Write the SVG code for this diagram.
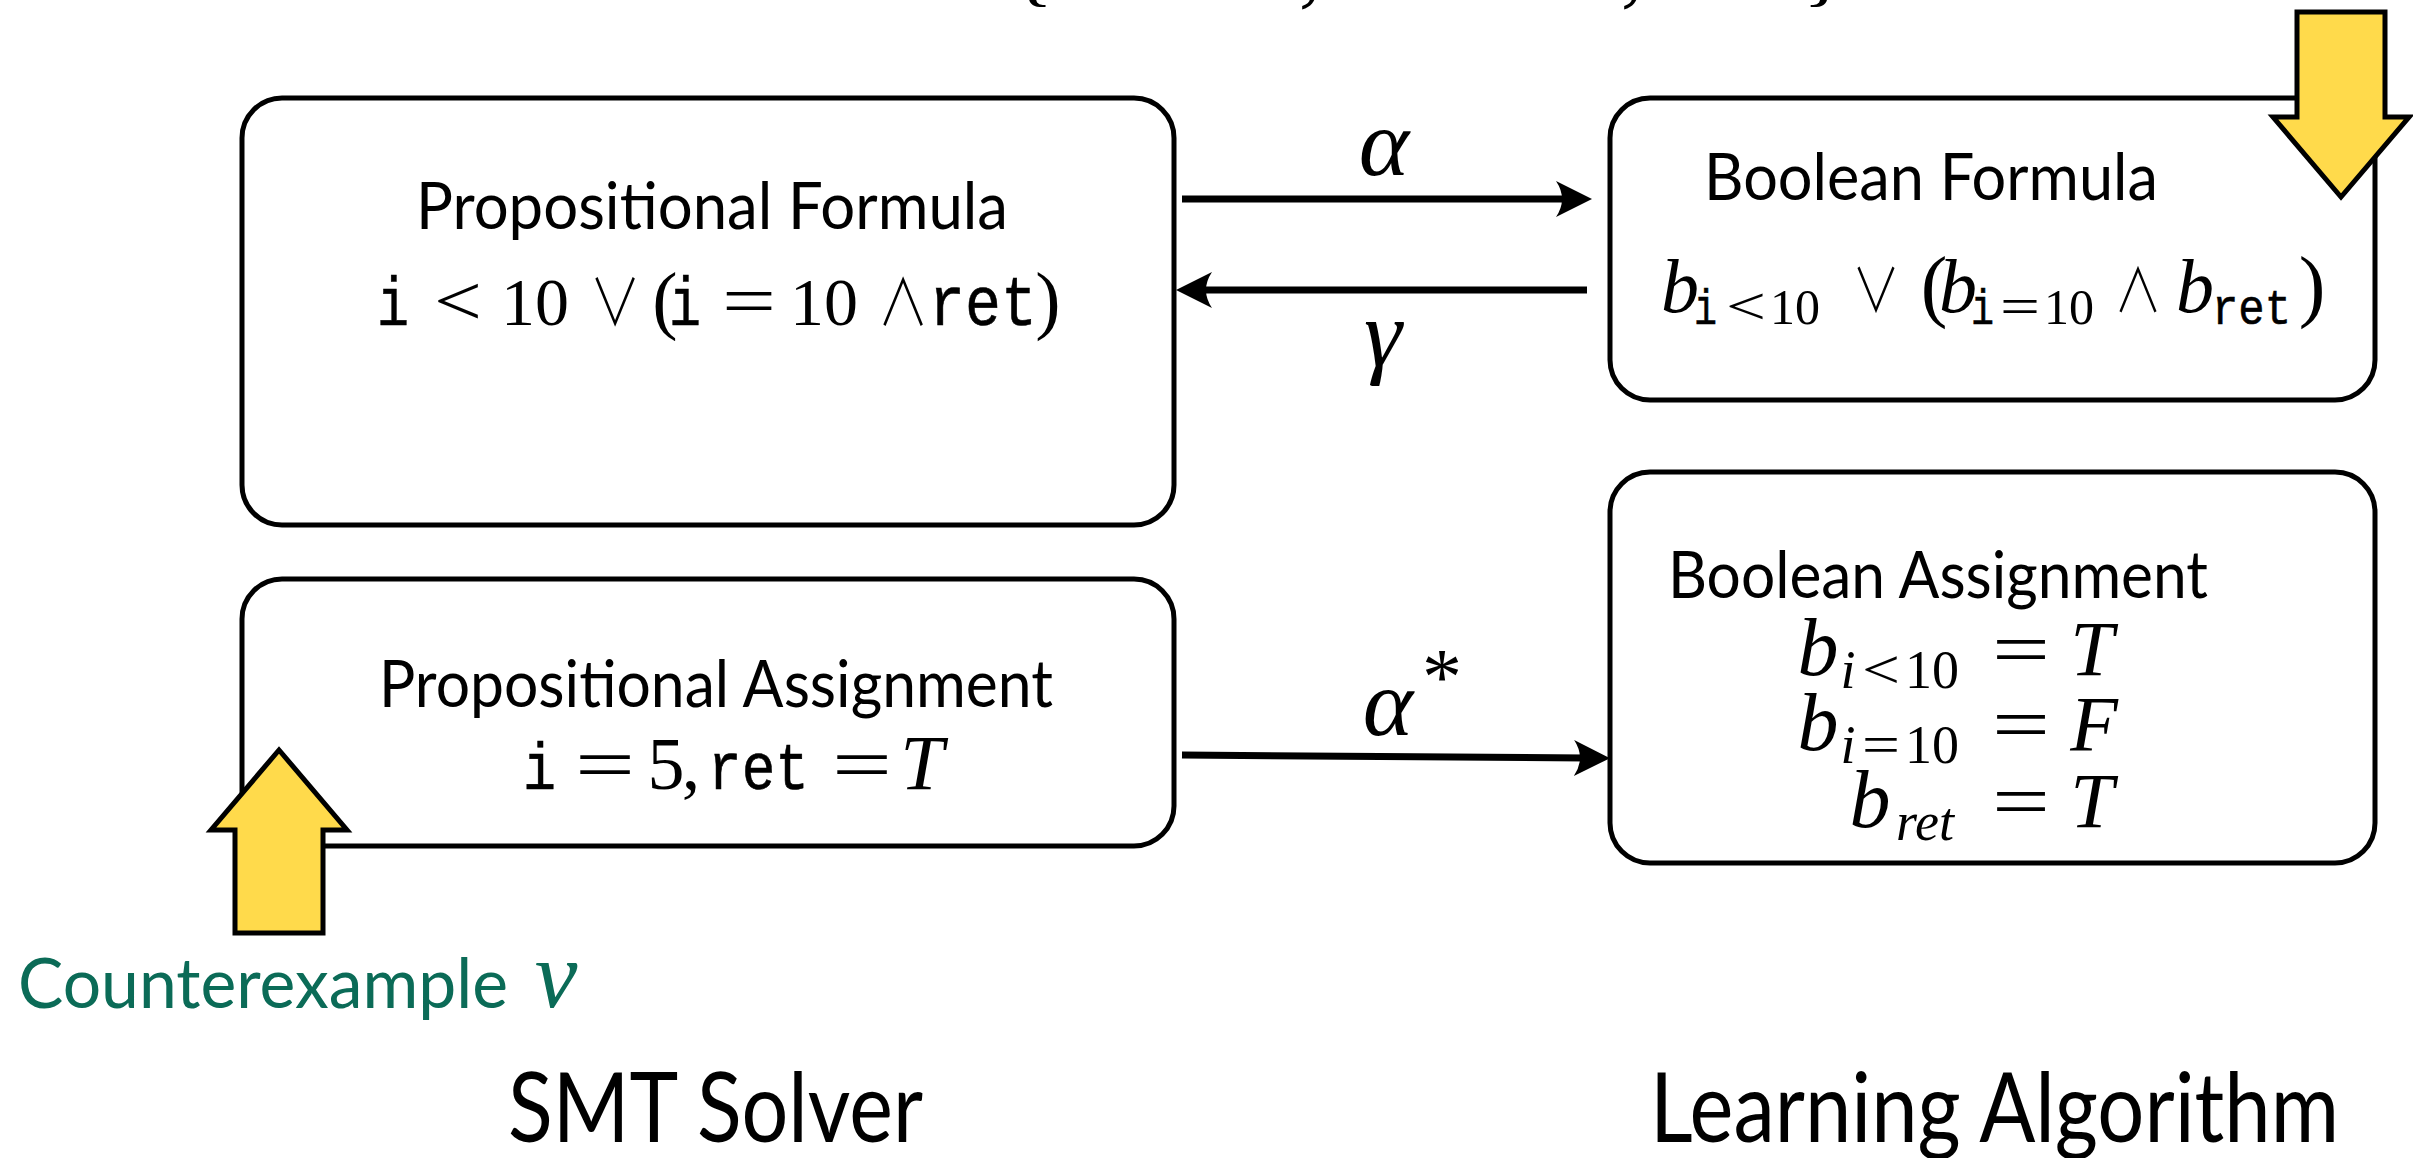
<svg xmlns="http://www.w3.org/2000/svg" width="2413" height="1158" viewBox="0 0 2413 1158">
  <defs>
    <style>
      .box { fill: #fff; stroke: #000; stroke-width: 5; }
      .lbl { font-family: Lato, "Open Sans", "Liberation Sans", sans-serif; fill: #000; }
      .rm { font-family: "Liberation Serif", "DejaVu Serif", serif; fill: #000; }
      .it { font-family: "Liberation Serif", "DejaVu Serif", serif; font-style: italic; fill: #000; }
      .lg { font-family: "Noto Sans CJK JP", "DejaVu Sans", sans-serif; font-weight: 300; fill: #000; }
      .tt { font-family: "Liberation Mono", "DejaVu Sans Mono", monospace; fill: #000; stroke: #000; stroke-width: 0.6; }
      .fat { fill: #FFDA4B; stroke: #000; stroke-width: 5; stroke-linejoin: miter; }
      .edge { stroke: #000; stroke-width: 7; fill: none; }
      .teal { fill: #0B6B57; }
      text { text-anchor: middle; }
      text.start { text-anchor: start; }
    </style>
    <marker id="head" markerUnits="userSpaceOnUse" viewBox="0 0 38 38" markerWidth="38" markerHeight="38" refX="14" refY="19" orient="auto">
      <path d="M38,19 L2,1 Q14,19 2,37 Z" fill="#000"/>
    </marker>
  </defs>

  <!-- set braces running off the top edge -->
  <g id="set-fragment" class="rm" font-size="90">
    <text x="1032" y="-5">{</text>
    <text x="1310" y="-5">,</text>
    <text x="1632" y="-5">,</text>
    <text x="1824" y="-5">}</text>
  </g>

  <!-- SMT side: propositional formula -->
  <g id="node-prop-formula">
    <rect class="box" x="242" y="98" width="932" height="427" rx="40"/>
    <text class="lbl start" x="416" y="229" font-size="66" textLength="592" lengthAdjust="spacingAndGlyphs">Propositional Formula</text>
    <text class="tt start" x="377" y="325" font-size="68" textLength="32" lengthAdjust="spacingAndGlyphs">i</text>
    <text class="rm start" x="434" y="325" font-size="72" textLength="48" lengthAdjust="spacingAndGlyphs">&lt;</text>
    <text class="rm" x="535" y="325" font-size="68">10</text>
    <text class="lg" transform="translate(615,325) scale(0.8,1)" font-size="64">∨</text>
    <text class="rm" x="665" y="325" font-size="76">(</text>
    <text class="tt start" x="669" y="325" font-size="68" textLength="32" lengthAdjust="spacingAndGlyphs">i</text>
    <text class="rm start" x="722" y="325" font-size="72" textLength="54" lengthAdjust="spacingAndGlyphs">=</text>
    <text class="rm" x="824" y="325" font-size="68">10</text>
    <text class="lg" transform="translate(903,325) scale(0.8,1)" font-size="64">∧</text>
    <text class="tt start" x="929" y="325" font-size="70" textLength="108" lengthAdjust="spacingAndGlyphs">ret</text>
    <text class="rm" x="1048" y="325" font-size="76">)</text>
  </g>

  <!-- learner side: boolean formula -->
  <g id="node-bool-formula">
    <rect class="box" x="1610" y="98" width="765" height="302" rx="40"/>
    <text class="lbl start" x="1704" y="200" font-size="66" textLength="454" lengthAdjust="spacingAndGlyphs">Boolean Formula</text>
    <text class="it" x="1680" y="312" font-size="76">b</text>
    <text class="tt start" x="1694" y="324" font-size="50" textLength="23" lengthAdjust="spacingAndGlyphs">i</text>
    <text class="rm start" x="1726" y="324" font-size="52" textLength="40" lengthAdjust="spacingAndGlyphs">&lt;</text>
    <text class="rm" x="1795" y="324" font-size="50">10</text>
    <text class="lg" transform="translate(1876,312) scale(0.8,1)" font-size="60">∨</text>
    <text class="rm" x="1934" y="312" font-size="80">(</text>
    <text class="it" x="1958" y="312" font-size="76">b</text>
    <text class="tt start" x="1971" y="324" font-size="50" textLength="23" lengthAdjust="spacingAndGlyphs">i</text>
    <text class="rm start" x="2000" y="324" font-size="52" textLength="40" lengthAdjust="spacingAndGlyphs">=</text>
    <text class="rm" x="2069" y="324" font-size="50">10</text>
    <text class="lg" transform="translate(2138,312) scale(0.8,1)" font-size="60">∧</text>
    <text class="it" x="2195" y="312" font-size="76">b</text>
    <text class="tt start" x="2212" y="324" font-size="50" textLength="79" lengthAdjust="spacingAndGlyphs">ret</text>
    <text class="rm" x="2312" y="312" font-size="80">)</text>
  </g>

  <!-- SMT side: propositional assignment -->
  <g id="node-prop-assign">
    <rect class="box" x="242" y="579" width="932" height="267" rx="40"/>
    <text class="lbl start" x="379" y="707" font-size="66" textLength="674" lengthAdjust="spacingAndGlyphs">Propositional Assignment</text>
    <text class="tt start" x="523" y="789" font-size="66" textLength="33" lengthAdjust="spacingAndGlyphs">i</text>
    <text class="rm start" x="575" y="789" font-size="74" textLength="60" lengthAdjust="spacingAndGlyphs">=</text>
    <text class="rm" x="666" y="789" font-size="74">5</text>
    <text class="rm" x="691" y="789" font-size="74">,</text>
    <text class="tt start" x="708" y="789" font-size="66" textLength="101" lengthAdjust="spacingAndGlyphs">ret</text>
    <text class="rm start" x="832" y="789" font-size="74" textLength="60" lengthAdjust="spacingAndGlyphs">=</text>
    <text class="it" x="922" y="789" font-size="78">T</text>
  </g>

  <!-- learner side: boolean assignment -->
  <g id="node-bool-assign">
    <rect class="box" x="1610" y="472" width="765" height="391" rx="40"/>
    <text class="lbl start" x="1668" y="598" font-size="66" textLength="540" lengthAdjust="spacingAndGlyphs">Boolean Assignment</text>

    <text class="it" x="1818" y="675" font-size="82">b</text>
    <text class="it" x="1848" y="688" font-size="54">i</text>
    <text class="rm start" x="1862" y="688" font-size="54" textLength="38" lengthAdjust="spacingAndGlyphs">&lt;</text>
    <text class="rm" x="1932" y="688" font-size="54">10</text>
    <text class="rm start" x="1992" y="675" font-size="76" textLength="58" lengthAdjust="spacingAndGlyphs">=</text>
    <text class="it" x="2092" y="675" font-size="78">T</text>

    <text class="it" x="1818" y="750" font-size="82">b</text>
    <text class="it" x="1848" y="763" font-size="54">i</text>
    <text class="rm start" x="1862" y="763" font-size="54" textLength="38" lengthAdjust="spacingAndGlyphs">=</text>
    <text class="rm" x="1932" y="763" font-size="54">10</text>
    <text class="rm start" x="1992" y="750" font-size="76" textLength="58" lengthAdjust="spacingAndGlyphs">=</text>
    <text class="it" x="2094" y="750" font-size="78">F</text>

    <text class="it" x="1870" y="827" font-size="82">b</text>
    <text class="it" x="1925" y="840" font-size="54">ret</text>
    <text class="rm start" x="1992" y="827" font-size="76" textLength="58" lengthAdjust="spacingAndGlyphs">=</text>
    <text class="it" x="2092" y="827" font-size="78">T</text>
  </g>

  <!-- abstraction / concretisation maps between the two sides -->
  <g id="connectors">
    <line class="edge" x1="1182" y1="199" x2="1568" y2="199" marker-end="url(#head)"/>
    <text class="it" x="1384" y="175" font-size="96">α</text>
    <line class="edge" x1="1587" y1="290" x2="1200" y2="290" marker-end="url(#head)"/>
    <text class="it" x="1383" y="366" font-size="96">γ</text>
    <line class="edge" x1="1182" y1="755" x2="1586" y2="758" marker-end="url(#head)"/>
    <text class="it" x="1388" y="735" font-size="96">α</text>
    <text class="rm" x="1442" y="704" font-size="80">*</text>
  </g>

  <!-- input arrow into the learner -->
  <g id="query-arrow">
    <polygon class="fat" points="2297,12 2385,12 2385,117 2409,117 2341,197 2273,117 2297,117"/>
  </g>

  <!-- counterexample arrow into the solver -->
  <g id="counterexample">
    <polygon class="fat" points="235,933 323,933 323,830 347,830 279,750 211,830 235,830"/>
    <text class="lbl start teal" x="18" y="1008" font-size="70" textLength="490" lengthAdjust="spacingAndGlyphs" style="fill:#0B6B57">Counterexample</text>
    <text class="it teal" x="556" y="1007" font-size="96" style="fill:#0B6B57">ν</text>
  </g>

  <!-- component captions -->
  <g id="captions">
    <text class="lbl start" x="508" y="1142" font-size="97" textLength="415" lengthAdjust="spacingAndGlyphs">SMT Solver</text>
    <text class="lbl start" x="1650" y="1142" font-size="97" textLength="689" lengthAdjust="spacingAndGlyphs">Learning Algorithm</text>
  </g>
</svg>
